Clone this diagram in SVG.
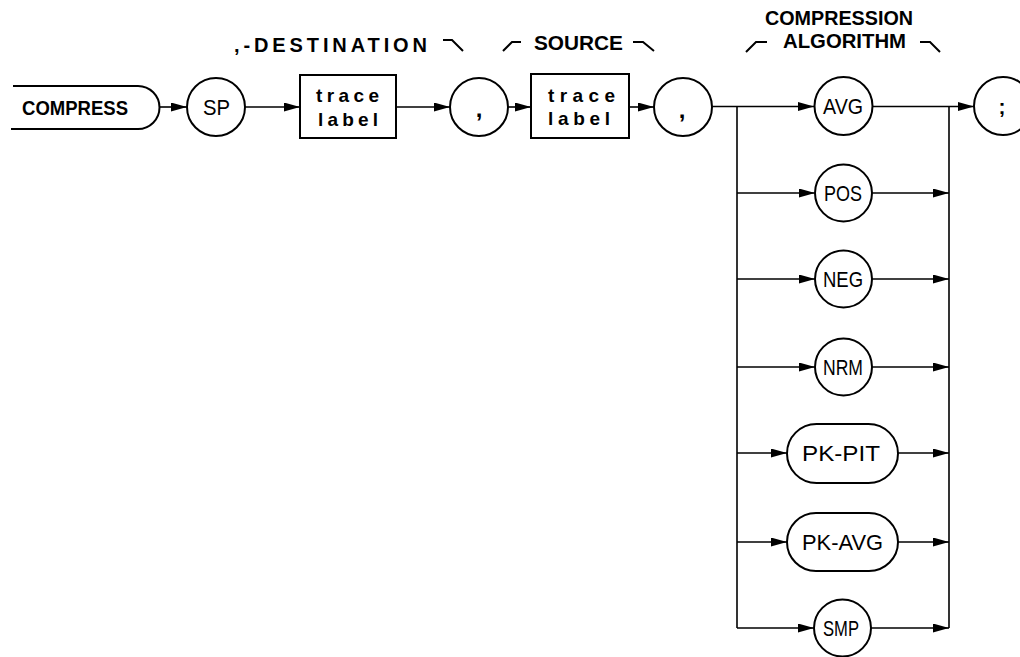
<svg xmlns="http://www.w3.org/2000/svg" width="1020" height="657" viewBox="0 0 1020 657">
<style>
.shape{fill:none;stroke:#000;stroke-width:2}
.conn{fill:none;stroke:#000;stroke-width:1.6}
.brk{fill:none;stroke:#000;stroke-width:2}
.lbl{font-family:"Liberation Sans",Arial,sans-serif;font-weight:bold;font-size:20px;fill:#000}
.nd{font-family:"Liberation Sans",Arial,sans-serif;font-size:22px;fill:#000}
.pn{font-family:"Liberation Sans",Arial,sans-serif;font-weight:bold;font-size:24px;fill:#000}
.tr{font-family:"Liberation Sans",Arial,sans-serif;font-weight:bold;font-size:19px;fill:#000}
</style>
<defs>
<marker id="ah" markerUnits="userSpaceOnUse" markerWidth="17" markerHeight="10" refX="16" refY="4.5" orient="auto">
<path d="M0,0 L16,4.5 L0,9 z" fill="#000"/>
</marker>
</defs>
<rect width="1020" height="657" fill="#fff"/>

<g id="headings">
<text class="lbl" x="234" y="52" textLength="193" lengthAdjust="spacing">,-DESTINATION</text>
<path class="brk" d="M443,40 L452,40 L463,51"/>
<path class="brk" d="M503,51 L512,42 L521,42"/>
<text class="lbl" x="534" y="50" textLength="89" lengthAdjust="spacingAndGlyphs">SOURCE</text>
<path class="brk" d="M633,42 L643,42 L654,51"/>
<text class="lbl" x="765" y="25" textLength="148" lengthAdjust="spacingAndGlyphs">COMPRESSION</text>
<path class="brk" d="M746,52 L756,42 L767,42"/>
<text class="lbl" x="783" y="48" textLength="123" lengthAdjust="spacingAndGlyphs">ALGORITHM</text>
<path class="brk" d="M920,42 L930,42 L940,52"/>
</g>

<g id="connectors">
<line class="conn" x1="159" y1="107" x2="187" y2="107" marker-end="url(#ah)"/>
<line class="conn" x1="245" y1="107" x2="300" y2="107" marker-end="url(#ah)"/>
<line class="conn" x1="396" y1="107" x2="450" y2="107" marker-end="url(#ah)"/>
<line class="conn" x1="508" y1="107" x2="531" y2="107" marker-end="url(#ah)"/>
<line class="conn" x1="629" y1="107" x2="654" y2="107" marker-end="url(#ah)"/>
<polyline class="conn" points="712,106.5 737,106.5 814,106.5" marker-end="url(#ah)"/>
<line class="conn" x1="737" y1="106" x2="737" y2="628"/>
<line class="conn" x1="949" y1="106" x2="949" y2="628"/>
<line class="conn" x1="873" y1="106.5" x2="974" y2="106.5" marker-end="url(#ah)"/>
<line class="conn" x1="737" y1="193" x2="815" y2="193" marker-end="url(#ah)"/>
<line class="conn" x1="872" y1="193" x2="949" y2="193" marker-end="url(#ah)"/>
<line class="conn" x1="737" y1="279" x2="815" y2="279" marker-end="url(#ah)"/>
<line class="conn" x1="872" y1="279" x2="949" y2="279" marker-end="url(#ah)"/>
<line class="conn" x1="737" y1="367" x2="815" y2="367" marker-end="url(#ah)"/>
<line class="conn" x1="872" y1="367" x2="949" y2="367" marker-end="url(#ah)"/>
<line class="conn" x1="737" y1="453" x2="787" y2="453" marker-end="url(#ah)"/>
<line class="conn" x1="898" y1="453" x2="949" y2="453" marker-end="url(#ah)"/>
<line class="conn" x1="737" y1="542" x2="787" y2="542" marker-end="url(#ah)"/>
<line class="conn" x1="898" y1="542" x2="949" y2="542" marker-end="url(#ah)"/>
<line class="conn" x1="737" y1="628" x2="814" y2="628" marker-end="url(#ah)"/>
<line class="conn" x1="871" y1="628" x2="949" y2="628" marker-end="url(#ah)"/>
</g>

<g id="node-compress">
<path class="shape" d="M13,86 L138,86 A21.5,21.5 0 0 1 138,129 L11,129"/>
<text class="lbl" x="22" y="115" style="font-size:21px" textLength="106" lengthAdjust="spacingAndGlyphs">COMPRESS</text>
</g>
<g id="node-sp">
<circle class="shape" cx="216" cy="107" r="29"/>
<text class="nd" x="203" y="115" textLength="27" lengthAdjust="spacingAndGlyphs">SP</text>
</g>
<g id="node-trace1">
<rect class="shape" x="300" y="75" width="96" height="63"/>
<text class="tr" x="316" y="102" textLength="63" lengthAdjust="spacing">trace</text>
<text class="tr" x="318" y="126" textLength="60" lengthAdjust="spacing">label</text>
</g>
<g id="node-comma1">
<circle class="shape" cx="479" cy="107" r="29"/>
<text class="pn" x="479" y="117" text-anchor="middle">,</text>
</g>
<g id="node-trace2">
<rect class="shape" x="531" y="74" width="98" height="64"/>
<text class="tr" x="548" y="102" textLength="67" lengthAdjust="spacing">trace</text>
<text class="tr" x="548" y="125" textLength="62" lengthAdjust="spacing">label</text>
</g>
<g id="node-comma2">
<circle class="shape" cx="683" cy="107" r="29"/>
<text class="pn" x="682" y="118" text-anchor="middle">,</text>
</g>
<g id="node-avg">
<circle class="shape" cx="843.5" cy="106" r="29"/>
<text class="nd" x="823" y="114" textLength="40" lengthAdjust="spacingAndGlyphs">AVG</text>
</g>
<g id="node-semicolon">
<circle class="shape" cx="1003" cy="106" r="29"/>
<text class="pn" x="1002" y="114" style="font-size:21px" text-anchor="middle">;</text>
</g>
<g id="node-pos">
<circle class="shape" cx="843.5" cy="193" r="28.5"/>
<text class="nd" x="824" y="201" textLength="38" lengthAdjust="spacingAndGlyphs">POS</text>
</g>
<g id="node-neg">
<circle class="shape" cx="843.5" cy="279" r="28.5"/>
<text class="nd" x="823" y="287" textLength="40" lengthAdjust="spacingAndGlyphs">NEG</text>
</g>
<g id="node-nrm">
<circle class="shape" cx="843.5" cy="367" r="28.5"/>
<text class="nd" x="823" y="375" textLength="40" lengthAdjust="spacingAndGlyphs">NRM</text>
</g>
<g id="node-pkpit">
<rect class="shape" x="787" y="424" width="111" height="59" rx="29.5" ry="29.5"/>
<text class="nd" x="802" y="461" textLength="78" lengthAdjust="spacingAndGlyphs">PK-PIT</text>
</g>
<g id="node-pkavg">
<rect class="shape" x="787" y="513" width="111" height="58" rx="29" ry="29"/>
<text class="nd" x="802" y="550" textLength="81" lengthAdjust="spacingAndGlyphs">PK-AVG</text>
</g>
<g id="node-smp">
<circle class="shape" cx="842.5" cy="628" r="28.5"/>
<text class="nd" x="823" y="636" textLength="36" lengthAdjust="spacingAndGlyphs">SMP</text>
</g>
</svg>
